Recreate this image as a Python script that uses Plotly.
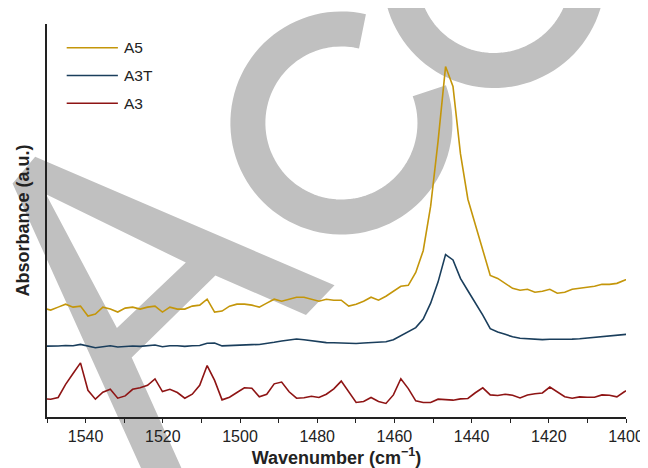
import math
import plotly.graph_objects as go

# ---------------- data ----------------
wavenumber = [1550.96, 1549.04, 1547.11, 1545.18, 1543.25, 1541.32, 1539.39, 1537.46, 1535.53, 1533.60,
              1531.67, 1529.74, 1527.81, 1525.88, 1523.95, 1522.02, 1520.09, 1518.16, 1516.23, 1514.30,
              1512.37, 1510.44, 1508.51, 1506.58, 1504.65, 1502.72, 1500.79, 1498.86, 1496.93, 1495.00,
              1493.07, 1491.14, 1489.21, 1487.28, 1485.35, 1483.42, 1481.49, 1479.56, 1477.63, 1475.70,
              1473.77, 1471.84, 1469.91, 1467.98, 1466.05, 1464.12, 1462.19, 1460.26, 1458.33, 1456.40,
              1454.47, 1452.54, 1450.61, 1448.68, 1446.75, 1444.82, 1442.89, 1440.96, 1439.03, 1437.10,
              1435.17, 1433.24, 1431.31, 1429.38, 1427.45, 1425.52, 1423.59, 1421.66, 1419.73, 1417.80,
              1415.87, 1413.94, 1412.01, 1410.08, 1408.15, 1406.22, 1404.29, 1402.36, 1400.43, 1398.50]

a5 = [0.110, 0.108, 0.111, 0.114, 0.111, 0.112, 0.102, 0.104, 0.111, 0.109, 0.106,
      0.110, 0.111, 0.109, 0.111, 0.112, 0.106, 0.111, 0.109, 0.109, 0.112,
      0.113, 0.119, 0.106, 0.107, 0.112, 0.114, 0.114, 0.113, 0.111, 0.115,
      0.119, 0.117, 0.119, 0.121, 0.121, 0.119, 0.117, 0.119, 0.118, 0.118,
      0.112, 0.114, 0.117, 0.121, 0.118, 0.122, 0.127, 0.132, 0.133, 0.146,
      0.168, 0.213, 0.279, 0.354, 0.334, 0.266, 0.220, 0.195, 0.170, 0.143,
      0.140, 0.135, 0.130, 0.128, 0.129, 0.126, 0.127, 0.129, 0.125, 0.126,
      0.129, 0.130, 0.131, 0.132, 0.134, 0.134, 0.135, 0.138, 0.141]

a3t = [0.0715, 0.0715, 0.0717, 0.0723, 0.0720, 0.0733, 0.0720, 0.0700, 0.0710, 0.0720, 0.0707,
       0.0713, 0.0717, 0.0713, 0.0717, 0.0727, 0.0710, 0.0720, 0.0720, 0.0713, 0.0720,
       0.0723, 0.0745, 0.0748, 0.0718, 0.0723, 0.0727, 0.0729, 0.0731, 0.0733, 0.0742,
       0.0755, 0.0768, 0.0780, 0.0788, 0.0780, 0.0770, 0.0757, 0.0751, 0.0750, 0.0747,
       0.0750, 0.0743, 0.0747, 0.0753, 0.0757, 0.0760, 0.0780, 0.0823, 0.0865, 0.0903,
       0.0990, 0.1150, 0.1365, 0.1640, 0.1587, 0.1400, 0.1275, 0.1155, 0.1030, 0.0892,
       0.0858, 0.0835, 0.0810, 0.0795, 0.0791, 0.0789, 0.0782, 0.0786, 0.0784, 0.0783,
       0.0787, 0.0791, 0.0798, 0.0804, 0.0814, 0.0820, 0.0826, 0.0833, 0.0840]

a3 = [0.0185, 0.0180, 0.0197, 0.0330, 0.0440, 0.0547, 0.0270, 0.0180, 0.0250, 0.0280, 0.0190,
      0.0213, 0.0280, 0.0295, 0.0320, 0.0385, 0.0257, 0.0280, 0.0247, 0.0190, 0.0230,
      0.0320, 0.0520, 0.0370, 0.0173, 0.0200, 0.0247, 0.0295, 0.0290, 0.0205, 0.0230,
      0.0335, 0.0353, 0.0255, 0.0190, 0.0195, 0.0210, 0.0197, 0.0230, 0.0285, 0.0363,
      0.0257, 0.0147, 0.0157, 0.0197, 0.0157, 0.0137, 0.0223, 0.0387, 0.0287, 0.0163,
      0.0147, 0.0147, 0.0180, 0.0173, 0.0170, 0.0183, 0.0187, 0.0245, 0.0295, 0.0223,
      0.0217, 0.0230, 0.0220, 0.0193, 0.0223, 0.0235, 0.0243, 0.0303, 0.0257, 0.0205,
      0.0190, 0.0203, 0.0200, 0.0200, 0.0223, 0.0220, 0.0203, 0.0255, 0.0290]

series_names = ["A5", "A3T", "A3"]
series_colors = ["#C4960A", "#1A3E5C", "#8E1414"]
x_tick_vals = [1540, 1520, 1500, 1480, 1460, 1440, 1420, 1400]

# ---------------- layout constants ----------------
W, H = 648, 468
ML, MR, MT, MB = 39, 21, 16, 55
PW, PH = W - ML - MR, H - MT - MB
FONT = "Arial, Liberation Sans, sans-serif"
GRAY = "#C0C0C0"
INK = "#222222"


def px(x, y):
    """pixel position -> paper coordinates"""
    return (x - ML) / PW, (H - MB - y) / PH


def poly(points):
    s = ""
    for k, (x, y) in enumerate(points):
        u, v = px(x, y)
        s += ("M" if k == 0 else "L") + f"{u:.5f},{v:.5f} "
    return s + "Z "


def arc(cx, cy, r, a0, a1, n=90):
    s = ""
    for k in range(n + 1):
        a = math.radians(a0 + (a1 - a0) * k / n)
        u, v = px(cx + r * math.cos(a), cy - r * math.sin(a))
        s += ("M" if k == 0 else "L") + f"{u:.5f},{v:.5f} "
    return s


# watermark "ACC" (decorative, behind the traces)
a_outer = [(4, 177), (27, 150), (331, 280), (302, 310), (210, 270), (125, 353),
           (187, 490), (146, 490)]
a_hole = [(38, 188), (110, 323), (180, 257)]
shapes = [
    dict(type="path", xref="paper", yref="paper", layer="below",
         path=poly(a_outer) + poly(a_hole), fillrule="evenodd",
         fillcolor=GRAY, line=dict(width=0)),
    dict(type="path", xref="paper", yref="paper", layer="below",
         path=arc(338, 116, 95, 77, 380), fillcolor="rgba(0,0,0,0)",
         line=dict(color=GRAY, width=35)),
    dict(type="path", xref="paper", yref="paper", layer="below",
         path=arc(493, -32, 95, 77, 380), fillcolor="rgba(0,0,0,0)",
         line=dict(color=GRAY, width=35)),
]

# legend drawn by hand (line sample 52 px long, text to its right)
annotations = []
legend_rows = [40, 68, 96]
for name, col, row in zip(series_names, series_colors, legend_rows):
    x0, y0 = px(59, row)
    x1, _ = px(111, row)
    shapes.append(dict(type="line", xref="paper", yref="paper", x0=x0, x1=x1, y0=y0, y1=y0,
                       line=dict(color=col, width=1.6)))
    xt, yt = px(115, row)
    annotations.append(dict(xref="paper", yref="paper", x=xt, y=yt, xanchor="left",
                            yanchor="middle", text=name, showarrow=False,
                            font=dict(size=15.5, color=INK)))

fig = go.Figure()
for name, ys, col in zip(series_names, [a5, a3t, a3], series_colors):
    fig.add_trace(go.Scatter(x=wavenumber, y=ys, mode="lines", name=name,
                             line=dict(color=col, width=1.6)))

fig.update_layout(
    width=W, height=H,
    margin=dict(l=ML, r=MR, t=MT, b=MB),
    paper_bgcolor="white", plot_bgcolor="white",
    font=dict(family=FONT, size=16, color=INK),
    shapes=shapes, annotations=annotations,
    showlegend=False,
    xaxis=dict(range=[1550, 1400], tickvals=x_tick_vals, showgrid=False, zeroline=False,
               showline=True, linecolor=INK, linewidth=1.5,
               ticks="outside", ticklen=4, tickwidth=1.2, tickcolor=INK,
               minor=dict(dtick=10, tick0=1400, ticks="outside", ticklen=4,
                          tickwidth=1.2, tickcolor=INK),
               tickfont=dict(size=16),
               title=dict(text="<b>Wavenumber (cm<sup>−1</sup>)</b>",
                          font=dict(size=18), standoff=6)),
    yaxis=dict(range=[0, 0.397], showgrid=False, zeroline=False,
               showline=True, linecolor=INK, linewidth=1.5,
               ticks="", showticklabels=False,
               title=dict(text="<b>Absorbance (a.u.)</b>", font=dict(size=18), standoff=11)),
)

fig.write_html("out.html")
